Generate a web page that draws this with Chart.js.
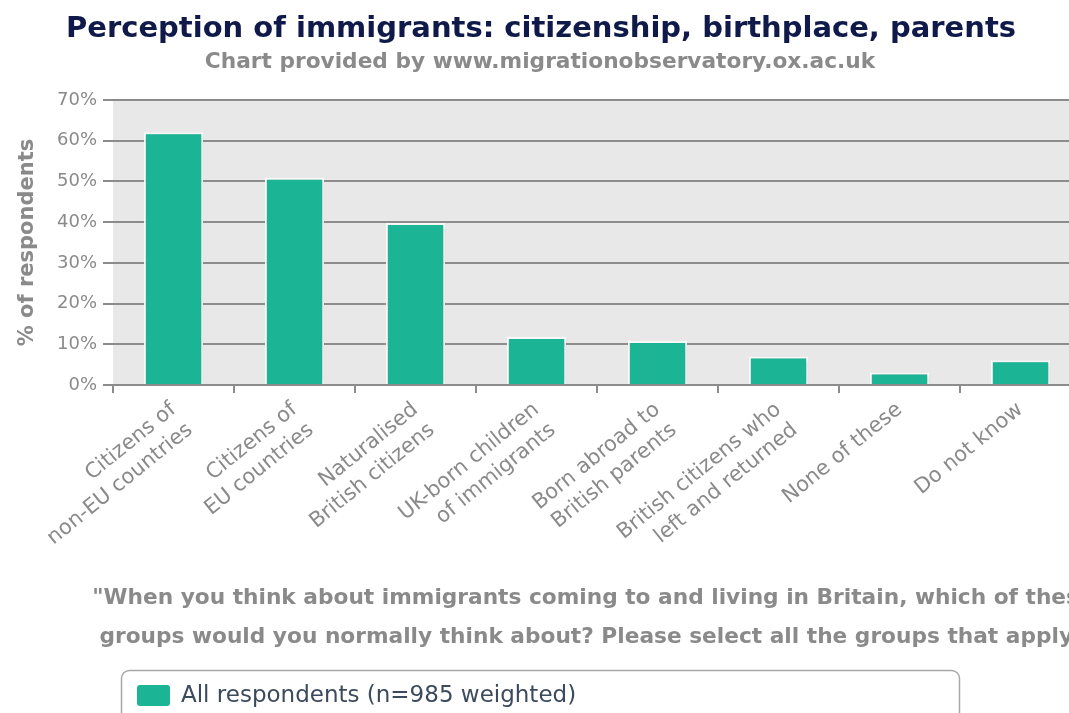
<!DOCTYPE html>
<html lang="en">
<head>
    <meta charset="UTF-8">
    <title>Perception of immigrants</title>
    <script src="https://cdn.jsdelivr.net/npm/chart.js@4.4.0/dist/chart.umd.min.js"></script>
    <style>
        html, body { margin: 0; padding: 0; background: #fff; overflow: hidden; }
        #wrap { width: 1090px; height: 713px; }
    </style>
</head>
<body>
<div id="wrap"><canvas id="chart"></canvas></div>
<script>
    // datos
    const categorias = [
        ['Citizens of', 'non-EU countries'],
        ['Citizens of', 'EU countries'],
        ['Naturalised', 'British citizens'],
        ['UK-born children', 'of immigrants'],
        ['Born abroad to', 'British parents'],
        ['British citizens who', 'left and returned'],
        'None of these',
        'Do not know'
    ];
    const valores = [62.1, 50.9, 39.8, 11.8, 10.8, 7, 3.1, 6.1];
    const serieNombre = 'All respondents (n=985 weighted)';
    const titulo = 'Perception of immigrants: citizenship, birthplace, parents';
    const subtitulo = 'Chart provided by www.migrationobservatory.ox.ac.uk';
    const pregunta = [
        '"When you think about immigrants coming to and living in Britain, which of these',
        'groups would you normally think about? Please select all the groups that apply."'
    ];

    const FONT = '"DejaVu Sans", sans-serif';
    const TEAL = '#1bb596';
    const GRIS = '#8a8a8a';

    // fondo del area de trazado
    const fondoPlot = {
        id: 'fondoPlot',
        beforeDraw(chart) {
            const a = chart.chartArea, ctx = chart.ctx;
            ctx.save();
            ctx.fillStyle = '#e8e8e8';
            ctx.fillRect(a.left, a.top, a.right - a.left, a.bottom - a.top);
            ctx.restore();
        },
        // sombra de las barras
        beforeDatasetDraw(chart) {
            const ctx = chart.ctx;
            ctx.save();
            ctx.shadowColor = 'rgba(0,0,0,0.18)';
            ctx.shadowBlur = 4;
            ctx.shadowOffsetX = 1;
            ctx.shadowOffsetY = 1;
        },
        afterDatasetDraw(chart) {
            chart.ctx.restore();
        }
    };

    // textos: titulo, subtitulo, pregunta y leyenda
    const textos = {
        id: 'textos',
        afterDraw(chart) {
            const ctx = chart.ctx;
            ctx.save();
            ctx.textBaseline = 'middle';
            ctx.textAlign = 'center';
            ctx.fillStyle = '#0f1a4a';
            ctx.font = 'bold 29px ' + FONT;
            ctx.fillText(titulo, 541, 29);
            ctx.fillStyle = GRIS;
            ctx.font = 'bold 21.7px ' + FONT;
            ctx.fillText(subtitulo, 540, 62);
            ctx.font = 'bold 21.7px ' + FONT;
            ctx.fillText(pregunta[0], 593, 598);
            ctx.fillText(pregunta[1], 595, 637);

            // caja de leyenda
            ctx.strokeStyle = '#a8a8a8';
            ctx.lineWidth = 1.5;
            ctx.beginPath();
            ctx.roundRect(121.5, 670.5, 838, 60, 8);
            ctx.stroke();
            ctx.fillStyle = TEAL;
            ctx.beginPath();
            ctx.roundRect(137, 685, 33, 21, 3);
            ctx.fill();
            ctx.fillStyle = '#3b4a5c';
            ctx.textAlign = 'left';
            ctx.font = '23px ' + FONT;
            ctx.fillText(chart.data.datasets[0].label, 181, 696);
            ctx.restore();
        }
    };

    const ctx = document.getElementById('chart').getContext('2d');
    const chart = new Chart(ctx, {
        type: 'bar',
        data: {
            labels: categorias,
            datasets: [{
                label: serieNombre,
                data: valores,
                backgroundColor: TEAL,
                borderColor: '#ffffff',
                borderWidth: 2,
                barPercentage: 0.49,
                categoryPercentage: 1
            }]
        },
        options: {
            responsive: true,
            maintainAspectRatio: false,
            animation: false,
            layout: { padding: { top: 100, right: 9, bottom: 148, left: 0 } },
            plugins: {
                legend: { display: false },
                tooltip: { enabled: false }
            },
            scales: {
                x: {
                    offset: true,
                    grid: {
                        offset: true,
                        drawOnChartArea: false,
                        color: '#8c8c8c',
                        lineWidth: 2,
                        tickLength: 8
                    },
                    border: { color: '#8c8c8c', width: 2 },
                    ticks: {
                        color: GRIS,
                        font: { family: FONT, size: 21, lineHeight: 1.25 },
                        maxRotation: 39,
                        minRotation: 39,
                        autoSkip: false,
                        padding: 4
                    },
                    afterFit(scale) { scale.height = 180; }
                },
                y: {
                    min: 0,
                    max: 70,
                    grid: {
                        color: '#8c8c8c',
                        lineWidth: 2,
                        tickLength: 10
                    },
                    border: { display: false },
                    ticks: {
                        stepSize: 10,
                        color: GRIS,
                        padding: 6,
                        font: { family: FONT, size: 18 },
                        callback: v => v + '%'
                    },
                    title: {
                        display: true,
                        text: '% of respondents',
                        color: GRIS,
                        font: { family: FONT, size: 21, weight: 'bold' },
                        padding: { top: 15, bottom: 0 }
                    },
                    afterFit(scale) { scale.width = 113; }
                }
            }
        },
        plugins: [fondoPlot, textos]
    });
</script>
</body>
</html>
